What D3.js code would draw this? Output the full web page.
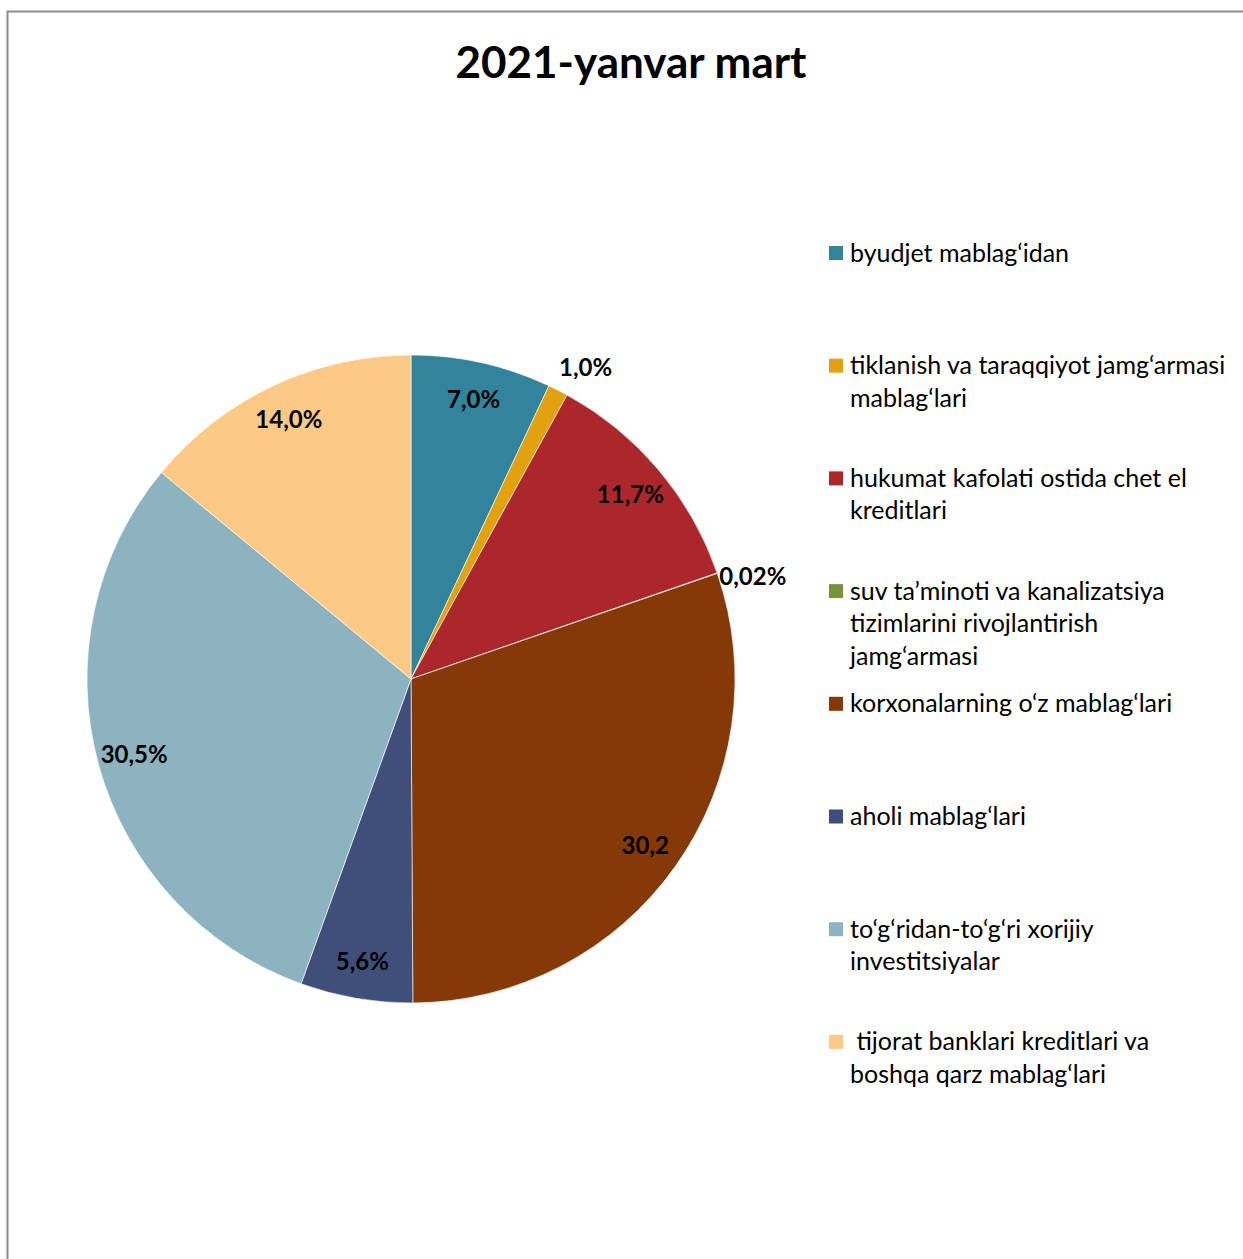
<!DOCTYPE html>
<html>
<head>
<meta charset="utf-8">
<script src="https://cdn.jsdelivr.net/npm/d3@7"></script>
<style>
  body { margin: 0; background: #fff; }
  text { font-family: Lato, 'Liberation Sans', sans-serif; }
</style>
</head>
<body>
<div id="chart"></div>
<script>
// chart data
var categories = [
  'byudjet mablag‘idan',
  'tiklanish va taraqqiyot jamg‘armasi\nmablag‘lari',
  'hukumat kafolati ostida chet el\nkreditlari',
  'suv ta’minoti va kanalizatsiya\ntizimlarini rivojlantirish\njamg‘armasi',
  'korxonalarning o‘z mablag‘lari',
  'aholi mablag‘lari',
  'to‘g‘ridan-to‘g‘ri xorijiy\ninvestitsiyalar',
  ' tijorat banklari kreditlari va\nboshqa qarz mablag‘lari'
]
var values = [7.0, 1.0, 11.7, 0.02, 30.2, 5.6, 30.5, 14.0]
var labels = ['7,0%', '1,0%', '11,7%', '0,02%', '30,2', '5,6%', '30,5%', '14,0%']
var colors = ['#31849B', '#E2A20F', '#AB272B', '#77933C', '#843907', '#3F4F7A', '#8DB3C1', '#FDCA86']

var svgWidth = 1243
var svgHeight = 1259

var svg = d3.select('#chart')
  .append('svg')
  .attr('width', svgWidth)
  .attr('height', svgHeight)

// chart area border (left + top visible)
svg.append('path')
  .attr('d', 'M7.5,' + svgHeight + ' V11.5 H' + svgWidth)
  .attr('fill', 'none')
  .attr('stroke', '#8c8c8c')
  .attr('stroke-width', 2)

// title
svg.append('text')
  .attr('x', 631)
  .attr('y', 78)
  .attr('text-anchor', 'middle')
  .attr('font-size', 44)
  .attr('font-weight', 'bold')
  .text('2021-yanvar mart')

// pie
var cx = 411, cy = 679, radius = 324

var pie = d3.pie().sort(null).value(d => d)
var arcs = pie(values)

var arc = d3.arc().innerRadius(0).outerRadius(radius)
var labelArc = d3.arc().innerRadius(287).outerRadius(287)

var pieGroup = svg.append('g')
  .attr('transform', `translate(${cx}, ${cy})`)

pieGroup.selectAll('path')
  .data(arcs)
  .enter()
  .append('path')
  .attr('d', arc)
  .attr('fill', (d, i) => colors[i])
  .attr('stroke', '#fff')
  .attr('stroke-width', 0.6)

// slice labels, small slices go outside
pieGroup.selectAll('.slice-label')
  .data(arcs)
  .enter()
  .append('text')
  .attr('class', 'slice-label')
  .attr('transform', function (d) {
    var p = labelArc.centroid(d)
    if (d.value < 2) {
      var a = (d.startAngle + d.endAngle) / 2 + 0.04
      p = [Math.sin(a) * 357, -Math.cos(a) * 357]
    }
    return `translate(${p[0]}, ${p[1]})`
  })
  .attr('dy', '0.36em')
  .attr('text-anchor', 'middle')
  .attr('font-size', 24)
  .attr('font-weight', 'bold')
  .attr('fill', '#000')
  .text((d, i) => labels[i])

// legend
var legendX = 829
var legendTop = 253
var legendStep = 112.7
var lineHeight = 32.5

var legend = svg.append('g')

var items = legend.selectAll('.legend-item')
  .data(categories)
  .enter()
  .append('g')
  .attr('class', 'legend-item')
  .attr('transform', (d, i) => `translate(${legendX}, ${legendTop + i * legendStep})`)

items.append('rect')
  .attr('x', 0)
  .attr('y', -7)
  .attr('width', 14)
  .attr('height', 14)
  .attr('fill', (d, i) => colors[i])

items.append('text')
  .attr('x', 21)
  .attr('y', 8.5)
  .attr('font-size', 25)
  .attr('fill', '#000')
  .style('white-space', 'pre')
  .each(function (d) {
    var t = d3.select(this)
    d.split('\n').forEach(function (line, k) {
      t.append('tspan')
        .attr('x', 21)
        .attr('dy', k === 0 ? 0 : lineHeight)
        .text(line)
    })
  })
</script>
</body>
</html>
